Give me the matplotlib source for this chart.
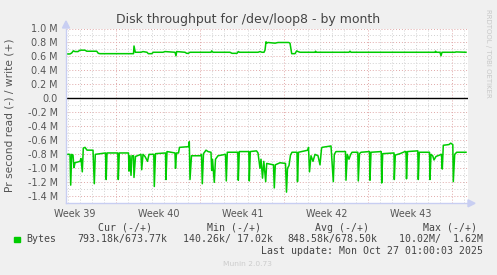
import matplotlib
matplotlib.use("Agg")
import matplotlib.pyplot as plt
from matplotlib.patches import Polygon, Rectangle

# ---------------- data (hours since start of window, values in M bytes/s) ----------------
write_hours = [0, 8, 11.4, 14.6, 18, 24, 28, 38, 41.4, 61.4, 64.6, 68, 120, 135, 136, 138.6,
               150, 154, 162, 164.6, 171.4, 174.6, 194, 198, 218, 220, 221.4, 238, 241.4,
               244.6, 248, 290, 291.4, 294, 328, 332, 342, 344.6, 347, 384, 388, 392, 396,
               398, 400, 401.4, 404, 418, 424, 445.4, 448, 451.4, 458, 461.4, 464, 468, 498,
               499, 501, 566, 568, 570, 738, 739, 741, 748, 750, 752, 778, 780, 800]
write_vals = [0.636, 0.636, 0.65, 0.68, 0.67, 0.67, 0.69, 0.69, 0.675, 0.675, 0.645, 0.64,
              0.64, 0.64, 0.75, 0.66, 0.66, 0.67, 0.66, 0.64, 0.64, 0.66, 0.66, 0.67, 0.66,
              0.61, 0.67, 0.66, 0.645, 0.645, 0.66, 0.66, 0.68, 0.66, 0.66, 0.645, 0.645,
              0.67, 0.66, 0.66, 0.67, 0.66, 0.66, 0.69, 0.81, 0.79, 0.80, 0.79, 0.80, 0.80,
              0.79, 0.64, 0.64, 0.68, 0.67, 0.66, 0.66, 0.675, 0.66, 0.66, 0.675, 0.66,
              0.66, 0.675, 0.66, 0.66, 0.61, 0.66, 0.66, 0.665, 0.66]

read_hours = [0, 8, 9.4, 11.4, 14, 16, 18, 28, 30, 32.6, 34.6, 38, 42, 54, 56.6, 58.6, 79,
              80.4, 82, 103.6, 104.6, 106.6, 125, 126, 128, 130, 132, 135, 136, 139, 150,
              151.4, 154, 158, 163, 166, 175.6, 176.6, 179, 199, 200, 202, 218, 219, 221,
              225, 227, 245, 246.6, 248, 251, 268, 271, 272.6, 275, 280, 284, 290, 291.4,
              293, 296.6, 299, 304, 319, 320.6, 322.6, 343.6, 344.6, 346.6, 365.6, 366.6,
              368.6, 381, 384, 388, 390, 393, 395.6, 399.4, 401.4, 415, 416.6, 418.6, 428,
              439, 441, 443, 446, 449, 452, 462, 463, 465, 484, 485, 487, 490, 494, 498,
              504, 508, 511, 512, 530, 534.6, 536.6, 540, 559, 560, 562.6, 566, 569.4, 572,
              583.6, 584.6, 587, 590, 607, 608, 610, 630.4, 631.4, 633.4, 656, 656.6, 658.6,
              668, 678, 680, 681, 683, 703.6, 704.6, 706.6, 727, 728, 730, 733.4, 736, 740,
              751, 752.6, 754.6, 766, 769.4, 773.6, 774.6, 777.4, 781.4, 800]
read_vals = [0.80, 0.80, 1.24, 0.80, 0.81, 0.99, 0.92, 0.90, 0.86, 1.05, 0.71, 0.70, 0.74,
             0.74, 1.22, 0.80, 0.78, 1.16, 0.78, 0.78, 1.16, 0.78, 0.78, 1.04, 0.82, 1.10,
             0.82, 0.82, 1.13, 0.83, 0.80, 1.02, 0.80, 0.83, 0.90, 0.80, 0.80, 1.26, 0.79,
             0.78, 1.16, 0.76, 0.78, 1.00, 0.78, 0.78, 0.70, 0.69, 0.62, 1.16, 0.82, 0.82,
             0.80, 1.22, 0.79, 0.74, 0.76, 0.77, 1.03, 0.87, 1.20, 0.87, 0.82, 0.80, 1.18,
             0.77, 0.77, 1.17, 0.76, 0.76, 1.18, 0.76, 0.75, 0.78, 1.00, 0.87, 1.14, 0.90,
             1.19, 0.93, 0.95, 1.28, 0.95, 0.92, 0.93, 1.34, 1.00, 0.96, 0.81, 0.77, 0.77,
             1.19, 0.77, 0.74, 0.70, 1.05, 0.82, 0.90, 0.80, 0.82, 0.95, 0.72, 0.70, 0.68,
             1.19, 0.80, 0.76, 0.76, 1.17, 0.80, 0.87, 0.80, 0.77, 0.77, 1.18, 0.79, 0.77,
             0.76, 1.17, 0.77, 0.76, 1.21, 0.79, 0.78, 1.16, 0.81, 0.79, 0.76, 0.76, 1.15,
             0.76, 0.75, 1.16, 0.77, 0.77, 1.16, 0.80, 0.82, 0.88, 0.83, 0.80, 1.01, 0.67,
             0.66, 0.64, 0.66, 1.19, 0.80, 0.77, 0.77]

week_starts = [100, 268, 436, 604, 772]           # hours
week_labels = ["Week 39", "Week 40", "Week 41", "Week 42", "Week 43"]
y_ticks = [-1.4, -1.2, -1.0, -0.8, -0.6, -0.4, -0.2, 0.0, 0.2, 0.4, 0.6, 0.8, 1.0]
y_ticklabels = ["-1.4 M", "-1.2 M", "-1.0 M", "-0.8 M", "-0.6 M", "-0.4 M", "-0.2 M",
                "0.0", "0.2 M", "0.4 M", "0.6 M", "0.8 M", "1.0 M"]

legend_headers = ["Cur (-/+)", "Min (-/+)", "Avg (-/+)", "Max (-/+)"]
legend_values = ["793.18k/673.77k", "140.26k/ 17.02k", "848.58k/678.50k", "10.02M/  1.62M"]
series_name = "Bytes"
title = "Disk throughput for /dev/loop8 - by month"
ylabel = "Pr second read (-) / write (+)"
last_update = "Last update: Mon Oct 27 01:00:03 2025"

# ---------------- figure ----------------
W, H = 497, 275
BG = "#f0f0f0"
GREEN = "#00cc00"
AXC = "#c8cef2"
fig = plt.figure(figsize=(W / 100, H / 100), dpi=100, facecolor=BG)

L, R, T, B = 66, 468, 28.5, 203.3
ax = fig.add_axes([L / W, 1 - B / H, (R - L) / W, (B - T) / H])
ax.set_facecolor("white")
ax.set_xlim(0, 804)
ax.set_ylim(-1.5e6, 1.0e6)

# grid
for k in range(-15, 11):
    v = k / 10
    major = (k % 2 == 0) and k >= -14
    ax.axhline(v * 1e6, color="#e0a8a8" if major else "#d0d0d0",
               lw=0.7, ls=(0, (1, 2)), zorder=0.5)
day = 24
first = week_starts[0] - 4 * day
h = first
while h < 804:
    is_week = any(abs(h - w) < 1e-6 for w in week_starts)
    ax.axvline(h, color="#e0a8a8" if is_week else "#d0d0d0",
               lw=0.7, ls=(0, (1, 2)), zorder=0.5)
    h += day

ax.axhline(0, color="black", lw=1.0, zorder=1.5)

ax.plot(write_hours, [v * 1e6 for v in write_vals], color=GREEN, lw=1.1, zorder=2)
ax.plot(read_hours, [-v * 1e6 for v in read_vals], color=GREEN, lw=1.1, zorder=2)

ax.set_yticks([v * 1e6 for v in y_ticks])
ax.set_yticklabels(y_ticklabels)
label_pos = [w - 168 + 85.5 for w in week_starts]
ax.set_xticks(label_pos)
ax.set_xticklabels(week_labels)
ax.tick_params(axis="both", length=0, labelsize=6.9, labelcolor="#555555")
ax.tick_params(axis="y", pad=6)
ax.tick_params(axis="x", pad=4)
for lab in ax.get_yticklabels() + ax.get_xticklabels():
    lab.set_family("DejaVu Sans")

for s in ["top", "right"]:
    ax.spines[s].set_visible(False)
ax.spines["left"].set_color(AXC)
ax.spines["bottom"].set_color(AXC)
ax.spines["left"].set_linewidth(1)
ax.spines["bottom"].set_linewidth(1)

# arrows on axes (figure pixel coords)
def fp(x, y):
    return (x / W, 1 - y / H)
fig.patches.append(Polygon([fp(62.5, 28), fp(69.5, 28), fp(66, 21)], closed=True,
                           transform=fig.transFigure, color=AXC))
fig.patches.append(Polygon([fp(468, 199.8), fp(468, 206.8), fp(475, 203.3)], closed=True,
                           transform=fig.transFigure, color=AXC))

# texts
fig.text(248.5 / W, 1 - 19 / H, title, ha="center", va="center", fontsize=9.0,
         color="#444444", family="DejaVu Sans")
fig.text(10 / W, 1 - 115 / H, ylabel, ha="center", va="center", rotation=90,
         fontsize=7.7, color="#555555", family="DejaVu Sans")
fig.text(488 / W, 1 - 53 / H, "RRDTOOL / TOBI OETIKER", ha="center", va="center",
         rotation=270, fontsize=5.0, color="#c8c8c8", family="DejaVu Sans")

mono = dict(family="DejaVu Sans Mono", fontsize=7.1, color="#444444", va="center")
header_x = [98.3, 206.7, 315, 422.7]
value_x = [77.3, 182.7, 287.3, 399.3]
for x, t in zip(header_x, legend_headers):
    fig.text(x / W, 1 - 227.7 / H, t, ha="left", **mono)
for x, t in zip(value_x, legend_values):
    fig.text(x / W, 1 - 239.3 / H, t, ha="left", **mono)
fig.text(26.7 / W, 1 - 239.3 / H, series_name, ha="left", **mono)
fig.patches.append(Rectangle(fp(14, 242.3), 5.5 / W, 5.6 / H, transform=fig.transFigure,
                             color=GREEN))
fig.text(482.7 / W, 1 - 251 / H, last_update, ha="right", **mono)
fig.text(247.8 / W, 1 - 264.5 / H, "Munin 2.0.73", ha="center", va="center",
         fontsize=5.4, color="#cccccc", family="DejaVu Sans")

fig.savefig("out.png", dpi=100, facecolor=BG)
